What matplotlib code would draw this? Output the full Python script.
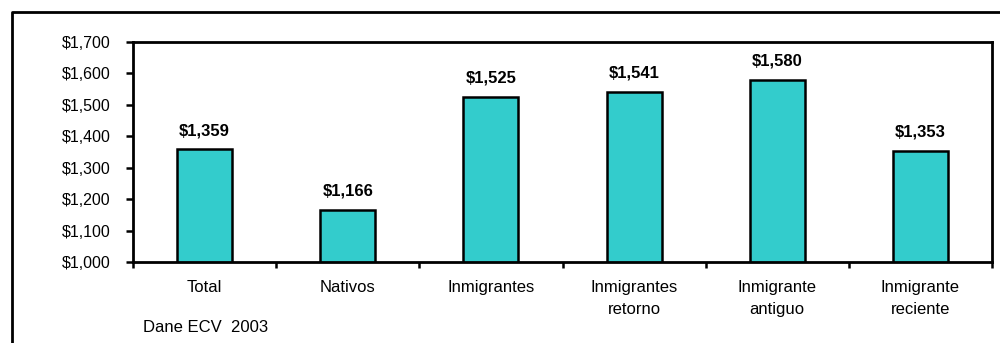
import matplotlib
matplotlib.use("Agg")
import matplotlib.pyplot as plt
from matplotlib.lines import Line2D
from matplotlib.ticker import MultipleLocator, FuncFormatter

plt.rcParams["font.family"] = ["Liberation Sans", "DejaVu Sans"]

# ingreso promedio por grupo (Dane ECV 2003)
categorias = ["Total", "Nativos", "Inmigrantes", "Inmigrantes\nretorno",
              "Inmigrante\nantiguo", "Inmigrante\nreciente"]
ingresos = [1359, 1166, 1525, 1541, 1580, 1353]
fuente = "Dane ECV  2003"

fig = plt.figure(figsize=(10, 3.43), dpi=100)
ax = fig.add_axes([0.133, 0.236, 0.859, 0.642])

x = range(len(categorias))
bars = ax.bar(x, ingresos, width=0.385, color="#33CCCC", edgecolor="black",
              linewidth=1.8, zorder=2)

ax.set_xlim(-0.5, len(categorias) - 0.5)
ax.set_ylim(1000, 1700)
ax.yaxis.set_major_locator(MultipleLocator(100))
ax.yaxis.set_major_formatter(FuncFormatter(lambda v, _: f"${v:,.0f}"))

# ticks del eje x en los límites entre categorías
ax.set_xticks([i - 0.5 for i in range(len(categorias) + 1)])
ax.set_xticklabels([])
ax.set_xticks(list(x), minor=True)
ax.set_xticklabels(categorias, minor=True, fontsize=12, linespacing=1.55)
ax.tick_params(axis="x", which="minor", length=0, pad=13)
ax.tick_params(axis="x", which="major", length=4, width=1.8, direction="out")
ax.tick_params(axis="y", length=5, width=1.8, direction="out", labelsize=11.5, pad=11)

for s in ax.spines.values():
    s.set_linewidth(2)

for b, v in zip(bars, ingresos):
    ax.annotate(f"${v:,}", (b.get_x() + b.get_width() / 2, v),
                xytext=(0, 8), textcoords="offset points",
                ha="center", va="bottom", fontsize=12, fontweight="bold")

fig.text(0.143, 1 - 328 / 343, fuente, fontsize=12, va="center", ha="left")

# marco exterior (izquierda y arriba)
fx, fy = 11.5 / 1000, 1 - 11.5 / 343
fig.add_artist(Line2D([fx, fx, 1.0], [0.0, fy, fy], color="black",
                      linewidth=2, transform=fig.transFigure))

fig.savefig("out.png", dpi=100)
